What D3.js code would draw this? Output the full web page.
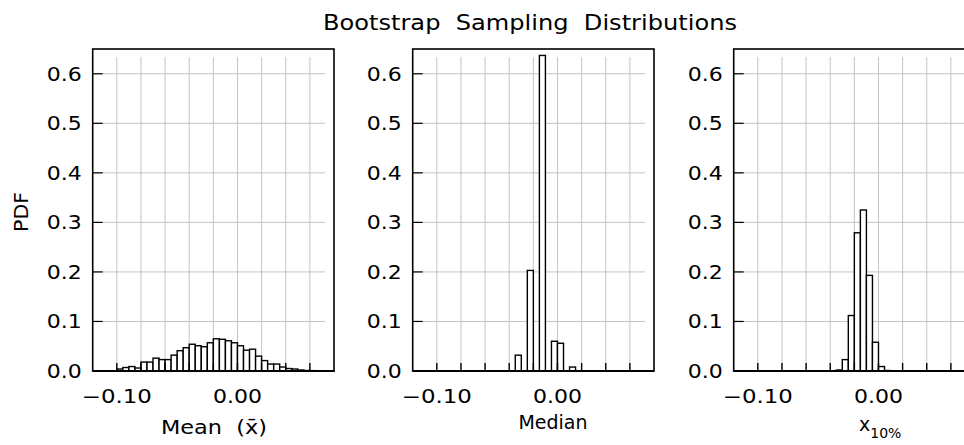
<!DOCTYPE html>
<html>
<head>
<meta charset="utf-8">
<script src="https://cdn.jsdelivr.net/npm/d3@7"></script>
<style>
  body { margin: 0; background: #fff; }
  svg { display: block; font-family: 'DejaVu Sans', sans-serif; }
</style>
</head>
<body>
<svg id="chart"></svg>
<script>
// histogram bin width shared by every panel
const binWidth = 0.005

// bootstrap mean, bins start at -0.10
const meanStart = -0.1
const meanPdf = [
  0.004, 0.007, 0.009, 0.006, 0.018, 0.018, 0.026, 0.023,
  0.023, 0.032, 0.041, 0.047, 0.054, 0.051, 0.049, 0.057,
  0.065, 0.064, 0.061, 0.057, 0.051, 0.042, 0.044, 0.030,
  0.021, 0.014, 0.014, 0.008, 0.005, 0.004, 0.002, 0.001,
  0.0008, 0.0005, 0.0005, 0.0004,
]

// bootstrap median, bins start at -0.035
const medianStart = -0.035
const medianPdf = [0.032, 0, 0.203, 0, 0.637, 0, 0.06, 0.056, 0, 0.008]

// bootstrap 10th percentile, bins start at -0.035
const pctStart = -0.035
const pctPdf = [0.002, 0.023, 0.112, 0.279, 0.325, 0.193, 0.058, 0.009, 0.001]

// axis ticks
const xGrid = [-0.1, -0.08, -0.06, -0.04, -0.02, 0, 0.02, 0.04, 0.06]
const xLabels = [-0.1, 0]
const yTicks = [0.1, 0.2, 0.3, 0.4, 0.5, 0.6]
const yLabels = [0, 0.1, 0.2, 0.3, 0.4, 0.5, 0.6]

const panels = [
  { start: meanStart, values: meanPdf, left: 92.7 },
  { start: medianStart, values: medianPdf, left: 412.7 },
  { start: pctStart, values: pctPdf, left: 733.7 },
]

const options = {
  width: 964,
  height: 445,
  plotTop: 49,
  plotWidth: 241.3,
  plotHeight: 322,
  gridInsetTop: 8,
  gridInsetRight: 9,
  fontSize: 19,
}

const { width, height, plotTop, plotWidth, plotHeight, fontSize } = options

const svg = d3
  .select('#chart')
  .attr('width', width)
  .attr('height', height)
  .attr('viewBox', [0, 0, width, height])

const x = d3.scaleLinear().domain([-0.12, 0.08]).range([0, plotWidth])
const y = d3.scaleLinear().domain([0, 0.65]).range([plotHeight, 0])

const fmtY = d3.format('.1f')
const fmtX = (d) => (d < 0 ? '\u2212' : '') + d3.format('.2f')(Math.abs(d))

// stretch text to the width measured on the reference
const fit = (sel, len) =>
  sel.attr('textLength', len).attr('lengthAdjust', 'spacingAndGlyphs')

// title
svg
  .append('text')
  .attr('x', 530)
  .attr('y', 30)
  .attr('text-anchor', 'middle')
  .attr('font-size', 21)
  .attr('xml:space', 'preserve')
  .text('Bootstrap  Sampling  Distributions')
  .call(fit, 414)

// y label
svg
  .append('text')
  .attr('transform', 'translate(28,212) rotate(-90)')
  .attr('text-anchor', 'middle')
  .attr('font-size', fontSize)
  .text('PDF')
  .call(fit, 40)

panels.forEach((p) => {
  const g = svg.append('g').attr('transform', `translate(${p.left},${plotTop})`)

  // grid
  g.append('g')
    .selectAll('line')
    .data(xGrid)
    .join('line')
    .attr('x1', (d) => x(d))
    .attr('x2', (d) => x(d))
    .attr('y1', options.gridInsetTop)
    .attr('y2', plotHeight)
    .attr('stroke', '#c4c4c4')
    .attr('stroke-width', 1)

  g.append('g')
    .selectAll('line')
    .data(yTicks)
    .join('line')
    .attr('x1', 0)
    .attr('x2', plotWidth - options.gridInsetRight)
    .attr('y1', (d) => y(d))
    .attr('y2', (d) => y(d))
    .attr('stroke', '#c4c4c4')
    .attr('stroke-width', 1)

  // bars
  const bins = p.values
    .map((v, i) => ({ x0: p.start + i * binWidth, x1: p.start + (i + 1) * binWidth, v }))
    .filter((d) => d.v > 0)

  g.append('g')
    .selectAll('rect')
    .data(bins)
    .join('rect')
    .attr('x', (d) => x(d.x0))
    .attr('width', (d) => x(d.x1) - x(d.x0))
    .attr('y', (d) => y(d.v))
    .attr('height', (d) => y(0) - y(d.v))
    .attr('fill', '#fff')
    .attr('stroke', '#000')
    .attr('stroke-width', 1.4)

  // ticks
  g.append('g')
    .selectAll('line')
    .data(xGrid)
    .join('line')
    .attr('x1', (d) => x(d))
    .attr('x2', (d) => x(d))
    .attr('y1', plotHeight - 8)
    .attr('y2', plotHeight)
    .attr('stroke', '#000')
    .attr('stroke-width', 1.4)

  g.append('g')
    .selectAll('line')
    .data(yTicks)
    .join('line')
    .attr('x1', 0)
    .attr('x2', 10)
    .attr('y1', (d) => y(d))
    .attr('y2', (d) => y(d))
    .attr('stroke', '#000')
    .attr('stroke-width', 1.2)

  // frame
  g.append('rect')
    .attr('width', plotWidth)
    .attr('height', plotHeight)
    .attr('fill', 'none')
    .attr('stroke', '#000')
    .attr('stroke-width', 1.6)

  g.append('line')
    .attr('x1', 0)
    .attr('x2', plotWidth)
    .attr('y1', y(0))
    .attr('y2', y(0))
    .attr('stroke', '#000')
    .attr('stroke-width', 2.2)

  // tick labels
  g.append('g')
    .selectAll('text')
    .data(yLabels)
    .join('text')
    .attr('x', -11)
    .attr('y', (d) => y(d) + 7)
    .attr('text-anchor', 'end')
    .attr('font-size', fontSize)
    .text(fmtY)
    .call(fit, 35)

  g.append('g')
    .selectAll('text')
    .data(xLabels)
    .join('text')
    .attr('x', (d) => x(d))
    .attr('y', plotHeight + 32)
    .attr('text-anchor', 'middle')
    .attr('font-size', fontSize)
    .text(fmtX)
    .attr('textLength', (d) => (d < 0 ? 70 : 49))
    .attr('lengthAdjust', 'spacingAndGlyphs')
})

// x labels
svg
  .append('text')
  .attr('x', 214)
  .attr('y', 434)
  .attr('text-anchor', 'middle')
  .attr('font-size', fontSize)
  .attr('xml:space', 'preserve')
  .text('Mean  (x\u0304)')
  .call(fit, 106)

svg
  .append('text')
  .attr('x', 553)
  .attr('y', 429)
  .attr('text-anchor', 'middle')
  .attr('font-size', fontSize)
  .text('Median')

const pct = svg
  .append('text')
  .attr('x', 859)
  .attr('y', 431)
  .attr('font-size', fontSize)

pct.append('tspan').text('x')
pct.append('tspan').attr('font-size', 14).attr('dy', 7).text('10%')
</script>
</body>
</html>
